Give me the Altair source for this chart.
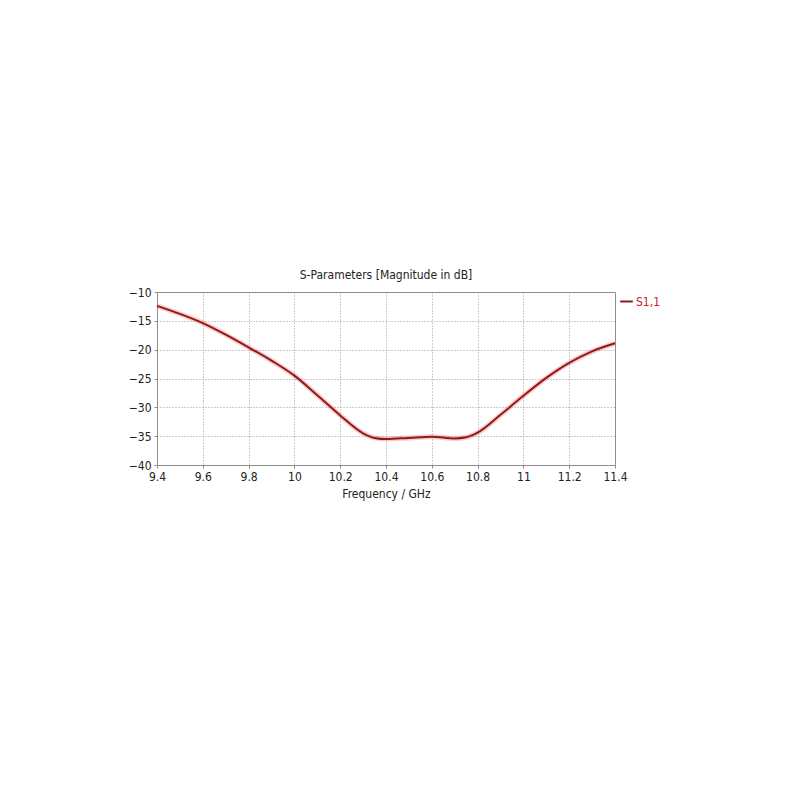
import altair as alt
import pandas as pd

freq = [9.4, 9.5, 9.6, 9.7, 9.8, 9.9, 10.0, 10.1, 10.2, 10.3, 10.35, 10.4, 10.5,
        10.6, 10.7, 10.75, 10.8, 10.9, 11.0, 11.1, 11.2, 11.3, 11.4]
s11 = [-12.4, -13.8, -15.4, -17.4, -19.6, -21.9, -24.5, -27.9, -31.4, -34.5, -35.3,
       -35.5, -35.3, -35.1, -35.4, -35.2, -34.4, -31.3, -28.0, -24.9, -22.3, -20.3, -18.9]
x_ticks = [9.4, 9.6, 9.8, 10.0, 10.2, 10.4, 10.6, 10.8, 11.0, 11.2, 11.4]
y_ticks = [-40, -35, -30, -25, -20, -15, -10]
series_name = "S1,1"

df = pd.DataFrame({"freq": freq, "s11": s11, "series": [series_name] * len(freq)})

FONT = "DejaVu Sans Condensed, DejaVu Sans"

x = alt.X("freq:Q",
          scale=alt.Scale(domain=[9.4, 11.4], nice=False, zero=False),
          axis=alt.Axis(values=x_ticks, title="Frequency / GHz", labelFlush=False,
                        labelExpr="replace(format(datum.value, '.1f'), '.0', '')"))
y = alt.Y("s11:Q",
          scale=alt.Scale(domain=[-40, -10], nice=False, zero=False),
          axis=alt.Axis(values=y_ticks, title=None, labelFlush=False))

halo = alt.Chart(df).mark_line(interpolate="monotone", color="#ff4d4d",
                               strokeWidth=5, opacity=0.3).encode(x=x, y=y)
core = alt.Chart(df).mark_line(interpolate="monotone", strokeWidth=2).encode(
    x=x, y=y,
    color=alt.Color("series:N", scale=alt.Scale(range=["#8c1c1c"]),
                    legend=alt.Legend(title=None, orient="none", legendX=462, legendY=2,
                                      symbolType="stroke", symbolSize=160,
                                      symbolStrokeWidth=2, symbolStrokeColor="#c81e1e",
                                      labelFont=FONT,
                                      labelFontSize=12, labelColor="#cc2020",
                                      labelOffset=2, padding=0)))

chart = alt.layer(halo, core).properties(
    width=458, height=173,
    background="white",
    title=alt.Title("S-Parameters [Magnitude in dB]", font=FONT, fontSize=12,
                    fontWeight="normal", color="#222222", anchor="middle", offset=4),
    autosize=alt.AutoSizeParams(type="none"),
    padding={"left": 149, "top": 284, "right": 170, "bottom": 280},
).configure_view(stroke="#8a8a8a", strokeWidth=1).configure_axis(
    grid=True, gridColor="#9a9a9a", gridDash=[1, 2], gridWidth=1,
    domain=False, tickColor="#8a8a8a", tickSize=3,
    labelFont=FONT, labelFontSize=12, labelColor="#222222", labelPadding=3,
    titleFont=FONT, titleFontSize=12, titleFontWeight="normal", titleColor="#222222",
    titlePadding=6,
)

chart.save("out.html", embed_options={"renderer": "svg", "actions": False})
